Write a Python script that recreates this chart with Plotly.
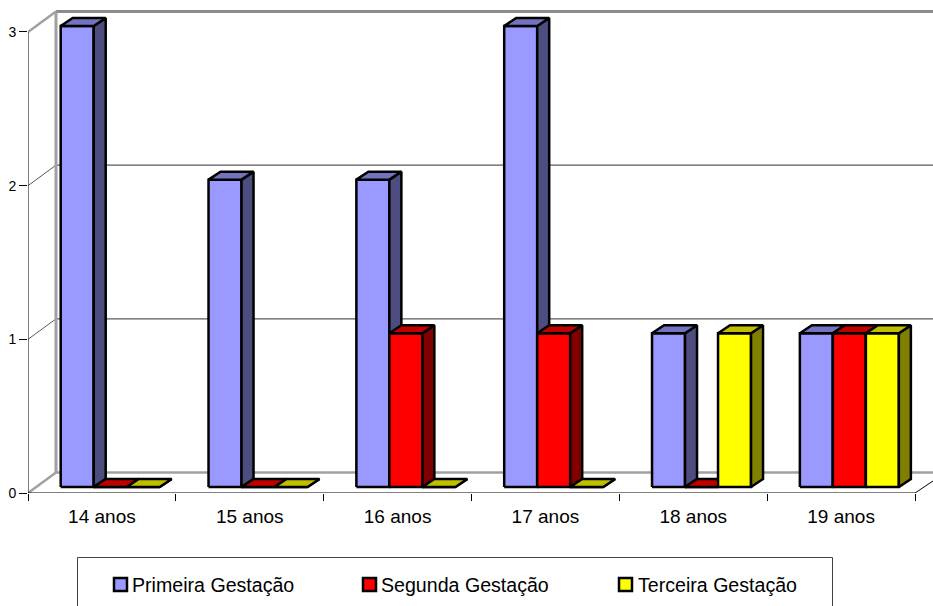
import plotly.graph_objects as go

# ---- data ----
CATEGORIES = ["14 anos", "15 anos", "16 anos", "17 anos", "18 anos", "19 anos"]
PRIMEIRA = [3, 2, 2, 3, 1, 1]
SEGUNDA = [0, 0, 1, 1, 0, 1]
TERCEIRA = [0, 0, 0, 0, 1, 1]
SERIES_NAMES = ["Primeira Gestação", "Segunda Gestação", "Terceira Gestação"]
VALUE_TICKS = [0, 1, 2, 3]

# ---- styles: (front, side, top) ----
COLORS = [("#9999FF", "#4D4D80", "#7373BF"),
          ("#FF0000", "#800000", "#BF0000"),
          ("#FFFF00", "#808000", "#BFBF00")]
WALL = "#A0A0A0"
GRID = "#5A5A5A"
FONT = "Liberation Sans, Arial, sans-serif"

W, H = 933, 606
ML, MB = 28, 113
PX_X = 887 / 6          # pixels per category
PX_Y = 153.67           # pixels per value unit
X0, X_MAX = -0.5, -0.5 + (W - ML) / PX_X
Y_MAX = (H - MB) / PX_Y


def ux(px):
    return px / PX_X


def uy(px):
    return px / PX_Y


BAR_W = ux(33)
BAR_START = ux(32.7) - 0.5     # left of the first bar, relative to the category
BAR_LIFT = uy(6)               # bars stand slightly behind the front axis plane
DX, DY = ux(12), uy(8)         # bar depth
WALL_DX, WALL_DY = ux(28), uy(20.5)  # chart depth


def polys(values, s, face):
    xs, ys = [], []
    for i, v in enumerate(values):
        l = i + BAR_START + s * BAR_W
        r = l + BAR_W
        b = BAR_LIFT
        t = v + BAR_LIFT
        if face == "front":
            px, py = [l, r, r, l, l], [b, b, t, t, b]
        elif face == "side":
            px, py = [r, r + DX, r + DX, r, r], [b, b + DY, t + DY, t, b]
        else:
            px, py = [l, r, r + DX, l + DX, l], [t, t, t + DY, t + DY, t]
        xs += px + [None]
        ys += py + [None]
    return xs, ys


fig = go.Figure()


def line(x, y, color, width, name):
    fig.add_trace(go.Scatter(x=x, y=y, mode="lines", name=name, showlegend=False,
                             hoverinfo="skip", cliponaxis=False,
                             line=dict(color=color, width=width)))


# back wall, floor edge and gridlines
for v in VALUE_TICKS:
    outer = v in (0, 3)
    line([X0, X0 + WALL_DX], [v, v + WALL_DY], WALL if outer else GRID,
         2.5 if outer else 1, f"diagonal {v}")
    line([X0 + WALL_DX, X_MAX], [v + WALL_DY, v + WALL_DY],
         "#8C8C8C" if v == 3 else (WALL if v == 0 else GRID),
         3 if v == 3 else (2.5 if v == 0 else 1.3), f"grade {v}")
line([X0 + WALL_DX, X0 + WALL_DX], [WALL_DY, 3 + WALL_DY], WALL, 3, "parede")

# front axis lines
line([X0, X0], [0, 3], "black", 1, "eixo y")
line([X0, 5.5, X_MAX], [0, 0, uy(12)], "black", 1, "eixo x")

# bars, series by series so that each covers its left neighbour's side
for s, values in enumerate([PRIMEIRA, SEGUNDA, TERCEIRA]):
    for k, face in enumerate(["front", "side", "top"]):
        xs, ys = polys(values, s, face)
        fig.add_trace(go.Scatter(x=xs, y=ys, mode="lines", fill="toself",
                                 fillcolor=COLORS[s][k], name=SERIES_NAMES[s],
                                 showlegend=False, hoverinfo="skip",
                                 line=dict(color="black", width=2.5)))

# legend
shapes = [dict(type="rect", xref="paper", yref="paper",
               x0=(77.5 - ML) / (W - ML), x1=(832.5 - ML) / (W - ML),
               y0=-1, y1=(H - MB - 557.5) / (H - MB),
               line=dict(color="#404040", width=1), fillcolor="white")]
annotations = []
for name, sx, tx, col in zip(SERIES_NAMES, [113, 362, 618], [132, 381, 638], COLORS):
    shapes.append(dict(type="rect", xref="paper", yref="paper",
                       x0=(sx + 1 - ML) / (W - ML), x1=(sx + 14 - ML) / (W - ML),
                       y0=(H - MB - 591) / (H - MB), y1=(H - MB - 578) / (H - MB),
                       line=dict(color="black", width=2.5), fillcolor=col[0]))
    annotations.append(dict(text=name, xref="paper", yref="paper",
                            x=(tx - ML) / (W - ML), y=(H - MB - 585) / (H - MB),
                            xanchor="left", yanchor="middle", showarrow=False,
                            xshift=-2, font=dict(family=FONT, size=19.6, color="black")))

fig.update_layout(
    width=W, height=H, autosize=False,
    margin=dict(l=ML, r=0, t=0, b=MB, pad=0),
    paper_bgcolor="white", plot_bgcolor="white",
    showlegend=False, shapes=shapes, annotations=annotations,
    xaxis=dict(range=[X0, X_MAX], tickmode="array", tickvals=list(range(len(CATEGORIES))),
               ticktext=CATEGORIES, ticks="", showgrid=False, zeroline=False, showline=False,
               ticklabelstandoff=10,
               tickfont=dict(family=FONT, size=19, color="black"),
               minor=dict(tickmode="array", tickvals=[i - 0.5 for i in range(len(CATEGORIES) + 1)],
                          ticks="outside", ticklen=7, tickwidth=1, tickcolor="black", showgrid=False)),
    yaxis=dict(range=[0, Y_MAX], tickmode="array", tickvals=VALUE_TICKS,
               ticks="outside", ticklen=8, tickwidth=1, tickcolor="black",
               showgrid=False, zeroline=False, showline=False,
               tickfont=dict(family=FONT, size=14, color="black")),
)

fig.write_html("out.html", config={"displayModeBar": False},
               post_script="document.body.style.margin='0';")
